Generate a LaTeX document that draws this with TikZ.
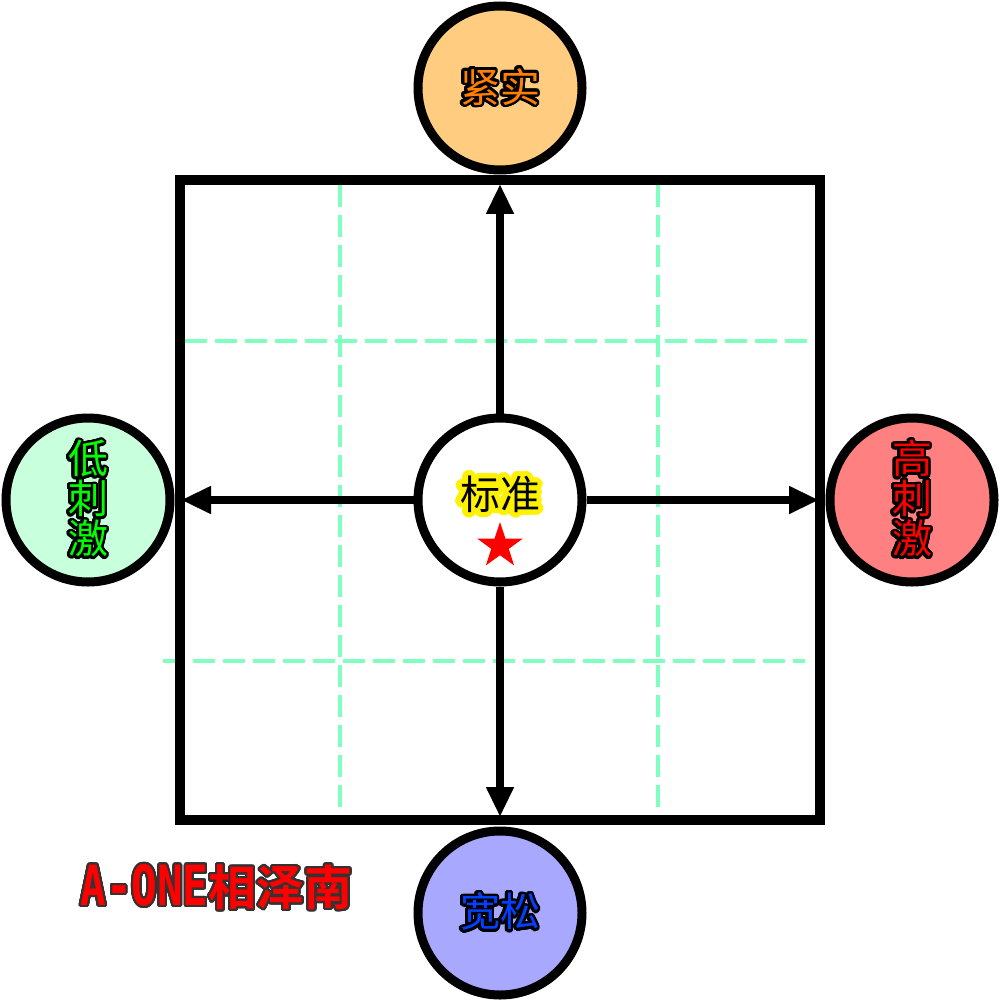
\documentclass[tikz,border=0pt]{standalone}
\usepackage{fontspec}
\usepackage[copies]{contour}
\usetikzlibrary{arrows.meta,shapes.geometric}
\newfontfamily\cjk{Noto Sans CJK SC}[BoldFont={* Bold}]
\newfontfamily\monob{DejaVu Sans Mono Bold}
\definecolor{gridc}{HTML}{80FFC0}
\definecolor{topfill}{HTML}{FFCC80}
\definecolor{leftfill}{HTML}{C8FFDC}
\definecolor{rightfill}{HTML}{FF8080}
\definecolor{botfill}{HTML}{A8A8FF}
\definecolor{orangetxt}{HTML}{FF8000}
\definecolor{greentxt}{HTML}{00FF00}
\definecolor{redtxt}{HTML}{FF0000}
\definecolor{bluetxt}{HTML}{0040FF}
\contournumber{32}
\contourlength{1.3pt}
\begin{document}
\begin{tikzpicture}[x=0.5pt,y=-0.5pt,
  circ/.style={circle, draw=black, line width=4.5pt, minimum size=82pt, inner sep=0pt},
  gridline/.style={draw=gridc, line width=2pt, dash pattern=on 11pt off 4pt},
  arr/.style={line width=4pt, -{Triangle[length=15pt,width=13pt]}},
  lbl/.style={font=\cjk\fontsize{20}{20}\selectfont, align=center, inner sep=0pt}]
\fill[white] (0,0) rectangle (1000,1000);
\useasboundingbox (0,0) rectangle (1000,1000);
% grid
\draw[gridline] (340,185) -- (340,815);
\draw[gridline] (658,185) -- (658,815);
\draw[gridline] (185,341) -- (815,341);
\draw[gridline] (163,661) -- (805,661);
% square
\node[draw=black, line width=5pt, minimum width=320pt, minimum height=320pt, inner sep=0pt] (sq) at (500,500) {};
% circles
\node[circ, fill=white] (std) at (500,500) {};
\node[circ, fill=topfill] (tight) at (500,88) {};
\node[circ, fill=leftfill] (low) at (88,500) {};
\node[circ, fill=rightfill] (high) at (912,500) {};
\node[circ, fill=botfill] (loose) at (500,913) {};
% arrow ends
\coordinate (eT) at (500,184);
\coordinate (eB) at (500,817);
\coordinate (eL) at (181,500);
\coordinate (eR) at (819,500);
\draw[arr] (std.north) -- (eT);
\draw[arr] (std.south) -- (eB);
\draw[arr] (std.west) -- (eL);
\draw[arr] (std.east) -- (eR);
% labels
\node[lbl, text=orangetxt] (tighttxt) at (tight) {\contour{black}{紧实}};
\node[lbl, text=bluetxt] (loosetxt) at (loose) {\contour{black}{宽松}};
\node[lbl, text=greentxt] (lowtxt) at (88,500) {\contour{black}{低}\\\contour{black}{刺}\\\contour{black}{激}};
\node[lbl, text=redtxt] (hightxt) at (912,500) {\contour{black}{高}\\\contour{black}{刺}\\\contour{black}{激}};
\node[lbl, text=black] (stdtxt) at (500,497) {\contourlength{2.6pt}\contour{yellow}{标准}};
\node[star, star points=5, star point ratio=2.6, fill=red, minimum size=24pt, inner sep=0pt] (star) at (500,546) {};
% signature
\node[inner sep=0pt, anchor=west, text=redtxt] (sig) at (80,888) {\contourlength{1pt}\contour{black!80}{\scalebox{1}[1.3]{\monob\fontsize{21.3}{21.3}\selectfont A-ONE}}\contour{black!80}{\cjk\bfseries\fontsize{24}{24}\selectfont 相泽南}};
\end{tikzpicture}
\end{document}
